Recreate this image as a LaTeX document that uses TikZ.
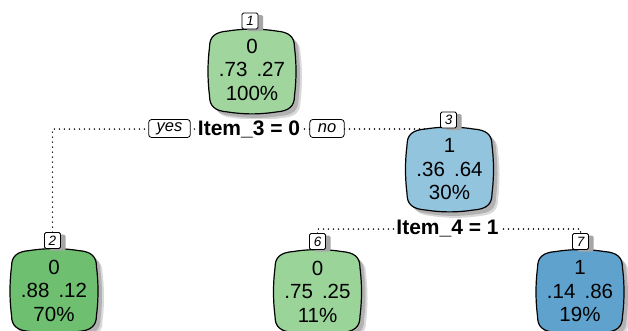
\documentclass[tikz,border=0pt]{standalone}
\usepackage{fontspec}
\setmainfont{Liberation Sans}
\usetikzlibrary{shadows}
\definecolor{gLight}{RGB}{160,214,158}
\definecolor{gDark}{RGB}{110,192,112}
\definecolor{gMid}{RGB}{155,212,153}
\definecolor{bLight}{RGB}{146,196,222}
\definecolor{bDark}{RGB}{96,162,206}
\pgfdeclarelayer{bg}
\pgfdeclarelayer{mid}
\pgfsetlayers{bg,mid,main}
\newcommand\barrelpath{(-42.5,-24) .. controls (-42.5,-35) and (-37,-39.5) .. (-24,-40.5) .. controls (-8,-43) and (8,-43) .. (24,-40.5) .. controls (37,-39.5) and (42.5,-35) .. (42.5,-24) .. controls (44.5,-8) and (44.5,8) .. (42.5,24) .. controls (42.5,35) and (37,39.5) .. (24,40.5) .. controls (8,43) and (-8,43) .. (-24,40.5) .. controls (-37,39.5) and (-42.5,35) .. (-42.5,24) .. controls (-44.5,8) and (-44.5,-8) .. (-42.5,-24) -- cycle}
\newcommand\barrel[3]{%
  \begin{scope}[shift={(#1,#2)}]
    \fill[black!15, shift={(6,6)}] \barrelpath;
    \fill[black!30, shift={(4,4)}] \barrelpath;
    \filldraw[fill=#3, line width=1.2pt] \barrelpath;
  \end{scope}}
\tikzset{
  leaftext/.style={align=center, inner sep=0pt, font=\fontsize{20.5}{23.5}\selectfont},
  numlab/.style={draw, fill=white, line width=0.8pt, rounded corners=1.5pt,
    minimum width=16pt, minimum height=16pt, inner sep=0pt,
    font=\fontsize{13.5}{14}\selectfont\itshape,
    drop shadow={shadow xshift=5pt, shadow yshift=-2pt, fill=black!35, opacity=1}},
  splitlab/.style={fill=white, inner xsep=1.5pt, inner ysep=1pt,
    font=\fontsize{21}{24}\selectfont\bfseries},
  ynlab/.style={draw, fill=white, line width=0.8pt, rounded corners=3pt,
    minimum height=18pt, inner xsep=8pt, inner ysep=0pt,
    font=\fontsize{16.5}{18}\selectfont\itshape},
  dotline/.style={line width=1.7pt, line cap=round, dash pattern=on 0pt off 5pt}
}
\begin{document}
\begin{tikzpicture}[x=1pt, y=-1pt]
\useasboundingbox (0,0) rectangle (628,330);

% leaf/inner node texts
\node[leaftext] (n1) at (252,69.5) {0\\.73\, .27\\100\%};
\node[leaftext] (n3) at (449.5,169.5) {1\\.36\, .64\\30\%};
\node[leaftext] (n2) at (54,290.5) {0\\.88\, .12\\70\%};
\node[leaftext] (n6) at (317.5,291.5) {0\\.75\, .25\\11\%};
\node[leaftext] (n7) at (580,291.5) {1\\.14\, .86\\19\%};

% node number labels
\node[numlab] (l1) at (250,21) {1};
\node[numlab] (l3) at (448.5,120) {3};
\node[numlab] (l2) at (52.5,240.5) {2};
\node[numlab] (l6) at (317.5,241.5) {6};
\node[numlab] (l7) at (580.5,241.5) {7};

% split labels
\node[splitlab] (s1) at (249,129) {Item\_3 = 0};
\node[ynlab] (yes) at (169.5,128.5) {yes};
\node[ynlab] (no) at (327,128.5) {no};
\node[splitlab] (s2) at (447.5,229) {Item\_4 = 1};

% background and branches
\begin{pgfonlayer}{bg}
\fill[white] (0,0) rectangle (628,330);
\draw[dotline] (l2.north) -- (l2.north |- s1) -- (n3 |- s1);
\draw[dotline] (l6.north) -- (l6.north |- s2) -- (l7.north |- s2) -- (l7.north);
\end{pgfonlayer}

% boxes
\begin{pgfonlayer}{mid}
\barrel{252}{71.5}{gLight}
\barrel{449.5}{169.5}{bLight}
\barrel{54}{291}{gDark}
\barrel{317.5}{292}{gMid}
\barrel{580}{292}{bDark}
\end{pgfonlayer}
\end{tikzpicture}
\end{document}
